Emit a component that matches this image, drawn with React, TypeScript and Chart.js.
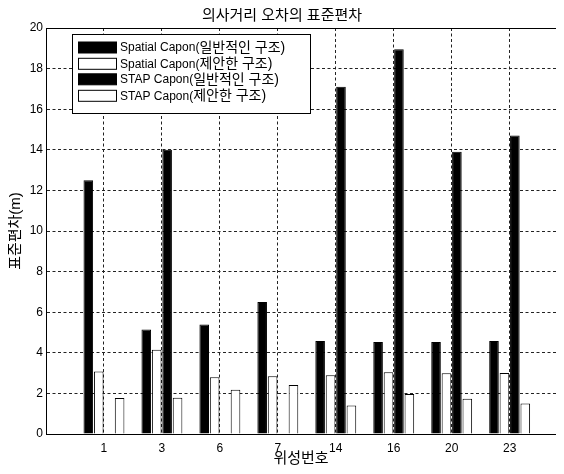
import { useEffect, useRef } from 'react';
import { Chart, registerables } from 'chart.js';

Chart.register(...registerables);

const categories = ['1', '3', '6', '7', '14', '16', '20', '23'];
const seriesNames = [
  'Spatial Capon(일반적인 구조)',
  'Spatial Capon(제안한 구조)',
  'STAP Capon(일반적인 구조)',
  'STAP Capon(제안한 구조)',
];
const spatialGeneral = [12.5, 5.15, 5.4, 6.5, 4.58, 4.53, 4.53, 4.58];
const spatialProposed = [3.08, 4.15, 2.79, 2.85, 2.89, 3.04, 2.99, 3.01];
const stapGeneral: (number | null)[] = [null, 14.0, null, null, 17.1, 18.95, 13.9, 14.7];
const stapProposed = [1.77, 1.79, 2.18, 2.41, 1.4, 1.97, 1.74, 1.5];
const seriesColors = ['#000000', '#ffffff', '#000000', '#ffffff'];

const titleText = '의사거리 오차의 표준편차';
const xTitle = '위성번호';
const yTitle = '표준편차(m)';

const FONT = "'Liberation Sans', 'Noto Sans CJK KR', sans-serif";

const frameAndLegend = {
  id: 'frameAndLegend',
  afterDraw(chart: any) {
    const { ctx, chartArea } = chart;
    ctx.save();
    // top frame line
    ctx.strokeStyle = '#000';
    ctx.lineWidth = 1;
    ctx.setLineDash([]);
    ctx.beginPath();
    ctx.moveTo(chartArea.left, chartArea.top + 0.5);
    ctx.lineTo(chartArea.right, chartArea.top + 0.5);
    ctx.stroke();

    // legend box
    const bx = 64.5, by = 26.5, bw = 238, bh = 79;
    ctx.fillStyle = '#fff';
    ctx.fillRect(bx, by, bw, bh);
    ctx.strokeRect(bx, by, bw, bh);
    const rows = [39.5, 55.8, 71.3, 87.8];
    ctx.textBaseline = 'middle';
    chart.data.datasets.forEach((ds: any, i: number) => {
      const cy = rows[i];
      ctx.fillStyle = ds.backgroundColor;
      ctx.fillRect(70.5, cy - 5.5, 38, 11);
      ctx.strokeStyle = '#000';
      ctx.strokeRect(70.5, cy - 5.5, 38, 11);
      ctx.fillStyle = '#000';
      const label: string = ds.label;
      const cut = label.indexOf('(') + 1;
      const latin = label.slice(0, cut);
      const rest = label.slice(cut);
      ctx.font = `12px ${FONT}`;
      ctx.fillText(latin, 112, cy + 0.5);
      const w = ctx.measureText(latin).width;
      ctx.font = `14px ${FONT}`;
      ctx.fillText(rest, 112 + w, cy + 0.5);
    });
    ctx.restore();
  },
};

export default function App() {
  const ref = useRef<HTMLCanvasElement | null>(null);
  useEffect(() => {
    if (!ref.current) return;
    const seriesValues = [spatialGeneral, spatialProposed, stapGeneral, stapProposed];
    const chart = new Chart(ref.current, {
      type: 'bar',
      data: {
        datasets: seriesValues.map((vals, i) => ({
          label: seriesNames[i],
          data: vals.map((v, j) => ({ x: j + 1, y: v })),
          backgroundColor: seriesColors[i],
          borderColor: '#000',
          borderWidth: 1,
          categoryPercentage: 0.72,
          barPercentage: 0.92,
        })),
      },
      options: {
        responsive: false,
        animation: false,
        layout: { padding: 0 },
        plugins: {
          legend: { display: false },
          tooltip: { enabled: false },
          title: {
            display: true,
            text: titleText,
            color: '#000',
            font: { family: FONT, size: 15, weight: 'normal', lineHeight: 1 },
            padding: { top: 0, bottom: 5 },
          },
        },
        scales: {
          x: {
            type: 'linear',
            min: 0,
            max: 8.8,
            offset: false,
            afterFit: (s: any) => { s.height = 32; },
            ticks: {
              stepSize: 1,
              includeBounds: false,
              autoSkip: false,
              maxRotation: 0,
              padding: 7,
              color: '#000',
              font: { family: FONT, size: 12 },
              callback: (v: any) => categories[Number(v) - 1] ?? '',
            },
            grid: { offset: false, drawTicks: false, color: '#222', lineWidth: 1 },
            border: { display: true, color: '#000', width: 1, dash: [3, 2.5] },
            title: {
              display: true,
              text: xTitle,
              color: '#000',
              font: { family: FONT, size: 15, lineHeight: 1 },
              padding: 0,
            },
          },
          y: {
            min: 0,
            max: 20,
            afterFit: (s: any) => { s.width = 38; },
            ticks: {
              stepSize: 2,
              padding: 3,
              color: '#000',
              font: { family: FONT, size: 12 },
            },
            grid: { drawTicks: false, color: '#222', lineWidth: 1 },
            border: { display: true, color: '#000', width: 1, dash: [3, 2.5] },
            title: {
              display: true,
              text: yTitle,
              color: '#000',
              font: { family: FONT, size: 15, lineHeight: 1 },
              padding: 0,
            },
          },
        },
      },
      plugins: [frameAndLegend],
    } as any);
    return () => chart.destroy();
  }, []);
  return (
    <div style={{ width: 548, height: 458 }}>
      <canvas ref={ref} width={548} height={458} />
    </div>
  );
}
